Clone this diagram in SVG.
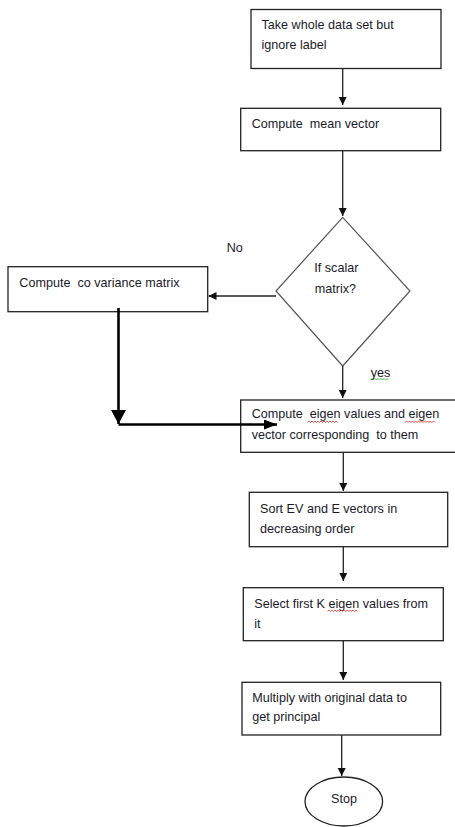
<svg xmlns="http://www.w3.org/2000/svg" width="455" height="827" viewBox="0 0 455 827">
<defs>
<marker id="ah" markerUnits="userSpaceOnUse" markerWidth="8" markerHeight="9" refX="8" refY="4" orient="auto">
<path d="M0,0 L8,4 L0,8 Z" fill="#111"/>
</marker>
<marker id="ahBig" markerUnits="userSpaceOnUse" markerWidth="15" markerHeight="16" refX="14" refY="7.5" orient="auto">
<path d="M0,0 L14,7.5 L0,15 Z" fill="#000"/>
</marker>
<marker id="ahMid" markerUnits="userSpaceOnUse" markerWidth="14" markerHeight="11" refX="13" refY="5" orient="auto">
<path d="M0,0 L13,5 L0,10 Z" fill="#000"/>
</marker>
</defs>
<style>
.box{fill:#fff;stroke:#222;stroke-width:1.3}
.dia{fill:#fff;stroke:#555;stroke-width:1.2}
.t{font-family:"Liberation Sans",Arial,sans-serif;font-size:12.6px;fill:#1a1a2a;white-space:pre}
.c{fill:none;stroke:#222;stroke-width:1.3}
.ck{fill:none;stroke:#000;stroke-width:2.6}
.sqr{fill:none;stroke:#d22;stroke-width:0.8}
.sqg{fill:none;stroke:#2a2;stroke-width:0.8}
</style>
<g id="n1">
<rect class="box" x="251" y="9.5" width="190" height="59"/>
<text class="t" x="261.5" y="29.3">Take whole data set but</text>
<text class="t" x="261.5" y="49">ignore label</text>
</g>
<g id="n2">
<rect class="box" x="240.7" y="108.3" width="200" height="42.4"/>
<text class="t" x="251.7" y="127.7" xml:space="preserve">Compute  mean vector</text>
</g>
<g id="n3">
<path class="dia" d="M342.7,217.3 L410,291 L342.7,366 L276,291 Z"/>
<text class="t" x="314.3" y="271.7">If scalar</text>
<text class="t" x="314.8" y="292.7">matrix?</text>
</g>
<g id="lblNo">
<text class="t" x="226.7" y="252.3">No</text>
</g>
<g id="lblYes">
<text class="t" x="370.7" y="376.7">yes</text>
<path class="sqg" d="M370.5,380 l1.5,-1.5 l1.5,1.5 l1.5,-1.5 l1.5,1.5 l1.5,-1.5 l1.5,1.5 l1.5,-1.5 l1.5,1.5 l1.5,-1.5 l1.5,1.5 l1.5,-1.5 l1.5,1.5"/>
</g>
<g id="n4">
<rect class="box" x="8" y="266.7" width="199.7" height="45"/>
<text class="t" x="19.3" y="287.3" xml:space="preserve">Compute  co variance matrix</text>
</g>
<g id="n5">
<rect class="box" x="240.7" y="400" width="220" height="52.3"/>
<text class="t" x="251.7" y="418.3" xml:space="preserve">Compute  eigen values and eigen</text>
<text class="t" x="251.7" y="439.3" xml:space="preserve">vector corresponding  to them</text>
<path class="sqr" d="M307.5,422.5 l1.5,-1.5 l1.5,1.5 l1.5,-1.5 l1.5,1.5 l1.5,-1.5 l1.5,1.5 l1.5,-1.5 l1.5,1.5 l1.5,-1.5 l1.5,1.5 l1.5,-1.5 l1.5,1.5 l1.5,-1.5 l1.5,1.5 l1.5,-1.5 l1.5,1.5 l1.5,-1.5 l1.5,1.5 l1.5,-1.5 l1.5,1.5"/>
<path class="sqr" d="M405,422.5 l1.5,-1.5 l1.5,1.5 l1.5,-1.5 l1.5,1.5 l1.5,-1.5 l1.5,1.5 l1.5,-1.5 l1.5,1.5 l1.5,-1.5 l1.5,1.5 l1.5,-1.5 l1.5,1.5 l1.5,-1.5 l1.5,1.5 l1.5,-1.5 l1.5,1.5 l1.5,-1.5 l1.5,1.5 l1.5,-1.5 l1.5,1.5"/>
</g>
<g id="n6">
<rect class="box" x="249.3" y="492.3" width="198.4" height="54.4"/>
<text class="t" x="260" y="513.3">Sort EV and E vectors in</text>
<text class="t" x="260" y="532.7">decreasing order</text>
</g>
<g id="n7">
<rect class="box" x="243.3" y="587.7" width="200" height="53"/>
<text class="t" x="254.3" y="608.3">Select first K eigen values from</text>
<text class="t" x="254.3" y="628.3">it</text>
<path class="sqr" d="M327.7,611.5 l1.5,-1.5 l1.5,1.5 l1.5,-1.5 l1.5,1.5 l1.5,-1.5 l1.5,1.5 l1.5,-1.5 l1.5,1.5 l1.5,-1.5 l1.5,1.5 l1.5,-1.5 l1.5,1.5 l1.5,-1.5 l1.5,1.5 l1.5,-1.5 l1.5,1.5 l1.5,-1.5 l1.5,1.5 l1.5,-1.5 l1.5,1.5"/>
</g>
<g id="n8">
<rect class="box" x="242" y="682.3" width="198.7" height="52.7"/>
<text class="t" x="252.3" y="701.7">Multiply with original data to</text>
<text class="t" x="252.3" y="721">get principal</text>
</g>
<g id="n9">
<ellipse class="box" cx="343.8" cy="801.5" rx="38.8" ry="24.5"/>
<text class="t" x="331" y="803.3">Stop</text>
</g>
<g id="connectors">
<line class="c" x1="342.7" y1="68.3" x2="342.7" y2="105" marker-end="url(#ah)"/>
<line class="c" x1="342.7" y1="150.7" x2="342.7" y2="216" marker-end="url(#ah)"/>
<line class="c" x1="276" y1="296" x2="208.5" y2="296" marker-end="url(#ah)"/>
<line class="ck" x1="118.5" y1="308" x2="118.5" y2="424" marker-end="url(#ahBig)"/>
<line class="ck" x1="118.5" y1="424.5" x2="277" y2="424.5" marker-end="url(#ahMid)"/>
<line class="c" x1="342.7" y1="366" x2="342.7" y2="398" marker-end="url(#ah)"/>
<line class="c" x1="343.3" y1="452.3" x2="343.3" y2="491" marker-end="url(#ah)"/>
<line class="c" x1="343.3" y1="546.7" x2="343.3" y2="581" marker-end="url(#ah)"/>
<line class="c" x1="343.3" y1="640.7" x2="343.3" y2="680" marker-end="url(#ah)"/>
<line class="c" x1="341.7" y1="735" x2="341.7" y2="776" marker-end="url(#ah)"/>
</g>
</svg>
